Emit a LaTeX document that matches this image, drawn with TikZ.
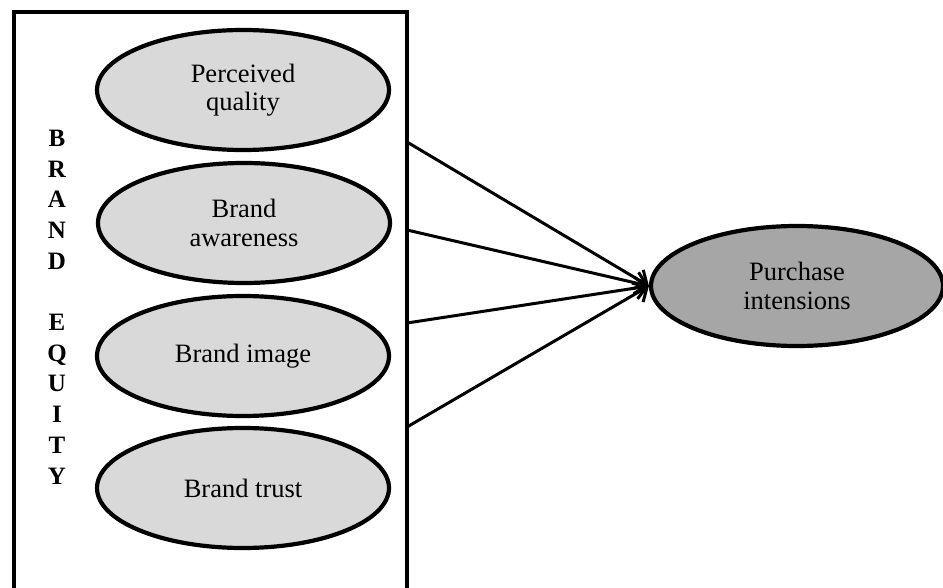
\documentclass[tikz,border=0pt]{standalone}
\usepackage{fontspec}
\setmainfont{Liberation Serif}
\usetikzlibrary{positioning, shapes.geometric, arrows.meta}
\definecolor{lightgrey}{RGB}{217,217,217}
\definecolor{midgrey}{RGB}{166,166,166}
\tikzset{
  factor/.style={ellipse, draw, line width=4.2pt, fill=lightgrey, minimum width=292pt,
    minimum height=120pt, inner sep=0pt, align=center, font=\fontsize{26.5}{28.5}\selectfont},
  link/.style={line width=3pt, -{Straight Barb[length=11pt, width=22pt]}}
}

\begin{document}
\begin{tikzpicture}[x=1pt, y=-1pt]
            \useasboundingbox (0,0) rectangle (943,588);
            \node (box) at (210.5, 301) [draw, line width=4.5pt, minimum width=393pt, minimum height=578pt, inner sep=0pt] {};
            \node (equity) at (57, 307) [align=center, font=\bfseries\fontsize{25}{30.7}\selectfont] {B\\R\\A\\N\\D\\[30.7pt]E\\Q\\U\\I\\T\\Y};
            \node (quality) at (243, 90) [factor] {Perceived\\quality};
            \node (awareness) at (244, 223) [factor] {Brand\\awareness};
            \node (image) at (243, 356) [factor] {Brand image};
            \node (trust) at (243, 488) [factor] {Brand trust};
            \node (purchase) at (797, 286) [factor, fill=midgrey] {Purchase\\intensions};

            \coordinate (s1) at (407, 142);
            \coordinate (s2) at (407, 230);
            \coordinate (s3) at (407, 323);
            \coordinate (s4) at (407, 427);

            \draw [link] (s1) -- (purchase.west);
            \draw [link] (s2) -- (purchase.west);
            \draw [link] (s3) -- (purchase.west);
            \draw [link] (s4) -- (purchase.west);
        \end{tikzpicture}
\end{document}
